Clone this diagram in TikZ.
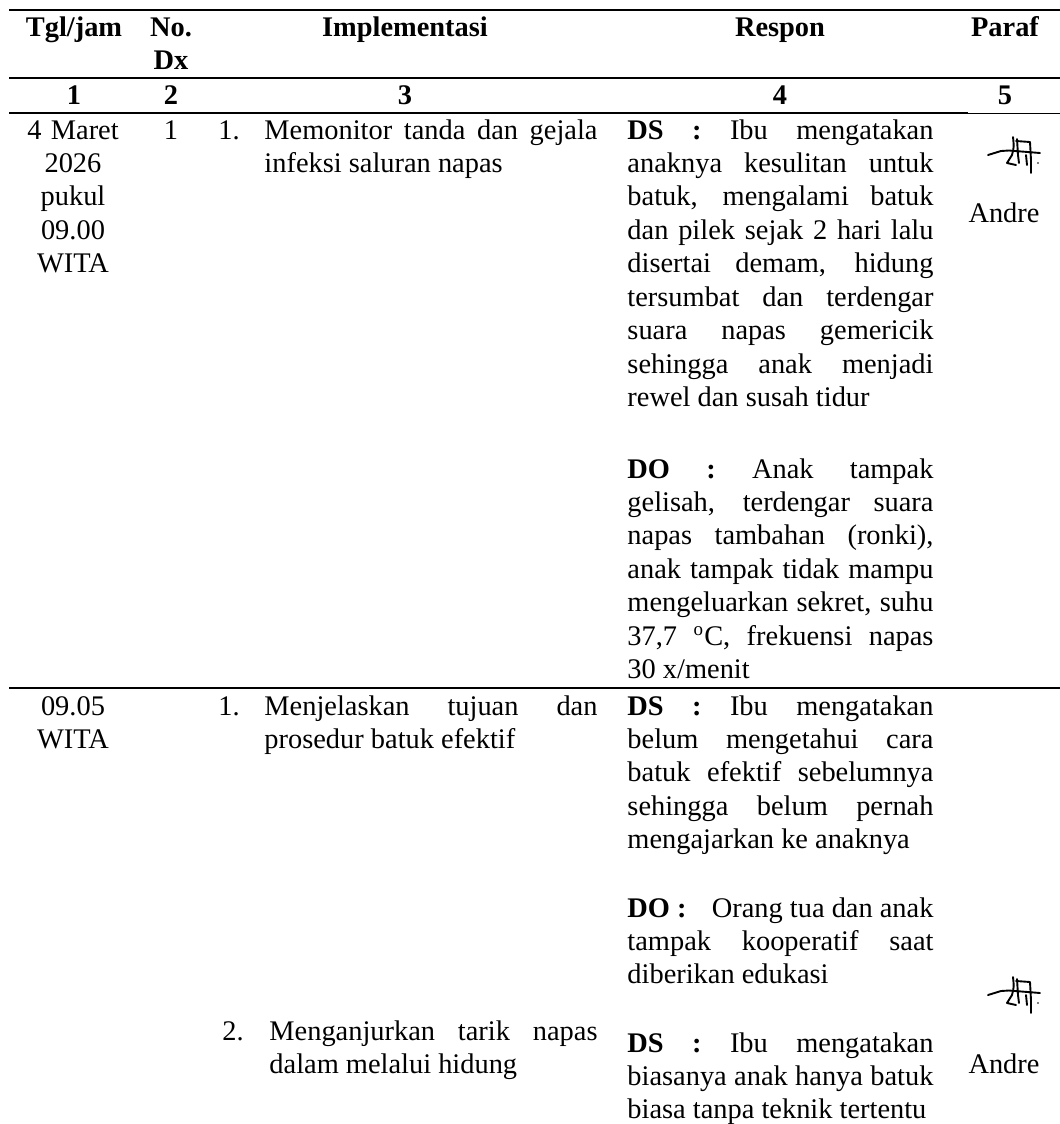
\documentclass[tikz,border=0pt]{standalone}
\usepackage{fontspec}
\setmainfont{Liberation Serif}
\tolerance=10000
\hbadness=10000
\hyphenpenalty=10000

\tikzset{
    paraf/.pic={
        \draw[line width=0.8pt,line cap=round,line join=round]
            (-25,0) -- (-12,-4) -- (-4,-4.5) -- (27,-2)
            (0,-18) .. controls (1,-8) .. (-1,0) -- (-6,8) -- (3,10)
            (4,-16) -- (5,0) -- (6,8)
            (3,-14) -- (17,-13) -- (18,5) -- (18,18)
            (13,0) -- (14,10);
        \fill (25,8) circle (0.9);
    }
}

\begin{document}
\fontsize{12}{14.15}\selectfont
\begin{tikzpicture}[x=0.4225pt,y=-0.4225pt]
        \useasboundingbox (0,0) rectangle (1060,1124);

        \begin{scope}[line width=0.63pt]
            \draw (9,10) -- (1060,10);
            \draw (9,78) -- (1060,78);
            \draw (9,113) -- (968,113);
            \draw[line width=0.42pt] (968,113) -- (1060,113);
            \draw (9,688) -- (1060,688);
        \end{scope}

        \begin{scope}[every node/.style={inner sep=0pt,anchor=base,font=\bfseries}]
            \node (tgl) at (74,36) {Tgl/jam};
            \node (nodx) at (171,36) [text width=28pt,align=center] {No.\\Dx};
            \node (impl) at (405,36) {Implementasi};
            \node (respon) at (780,36) {Respon};
            \node (paraf) at (1005,36) {Paraf};

            \node (k1) at (74,104) {1};
            \node (k2) at (171,104) {2};
            \node (k3) at (405,104) {3};
            \node (k4) at (780,104) {4};
            \node (k5) at (1005,104) {5};
        \end{scope}

        \begin{scope}[every node/.style={inner sep=0pt,anchor=base}]
            \node (tgl1) at (73,139) [text width=46.5pt,align=center] {4 Maret\\2026\\pukul\\09.00\\WITA};
            \node (dx1) at (171,139) {1};
            \node (no11) at (218,139) [anchor=base west] {1.};
            \node (imp11) at (264,139) [anchor=base west,text width=140.7pt,align=justify]
                {Memonitor tanda dan gejala\linebreak infeksi saluran napas};
            \node (ds1) at (627,139) [anchor=base west,text width=129.3pt,align=justify]
                {\textbf{DS :} Ibu mengatakan\linebreak anaknya kesulitan untuk\linebreak
                 batuk, mengalami batuk\linebreak dan pilek sejak 2 hari lalu\linebreak
                 disertai demam, hidung\linebreak tersumbat dan terdengar\linebreak
                 suara napas gemericik\linebreak sehingga anak menjadi\linebreak
                 rewel dan susah tidur};
            \node (do1) at (627,478) [anchor=base west,text width=129.3pt,align=justify]
                {\textbf{DO :} Anak tampak\linebreak gelisah, terdengar suara\linebreak
                 napas tambahan (ronki),\linebreak anak tampak tidak mampu\linebreak
                 mengeluarkan sekret, suhu\linebreak 37,7 \textsuperscript{o}C, frekuensi napas\linebreak
                 30 x/menit};
            \node (andre1) at (1004,222) {Andre};

            \node (tgl2) at (73,715) [text width=46.5pt,align=center] {09.05\\WITA};
            \node (no21) at (218,715) [anchor=base west] {1.};
            \node (imp21) at (264,715) [anchor=base west,text width=140.7pt,align=justify]
                {Menjelaskan tujuan dan\linebreak prosedur batuk efektif};
            \node (ds21) at (627,715) [anchor=base west,text width=129.3pt,align=justify]
                {\textbf{DS :} Ibu mengatakan\linebreak belum mengetahui cara\linebreak
                 batuk efektif sebelumnya\linebreak sehingga belum pernah\linebreak
                 mengajarkan ke anaknya};
            \node (do21) at (627,917) [anchor=base west,text width=129.3pt,align=justify]
                {\textbf{DO :}\hfill Orang tua dan anak\linebreak tampak kooperatif saat\linebreak
                 diberikan edukasi};
            \node (no22) at (222,1040) [anchor=base west] {2.};
            \node (imp22) at (269,1040) [anchor=base west,text width=138.6pt,align=justify]
                {Menganjurkan tarik napas\linebreak dalam melalui hidung};
            \node (ds22) at (627,1052) [anchor=base west,text width=129.3pt,align=justify]
                {\textbf{DS :} Ibu mengatakan\linebreak biasanya anak hanya batuk\linebreak
                 biasa tanpa teknik tertentu};
            \node (andre2) at (1004,1073) {Andre};
        \end{scope}

        \pic (ttd1) at (1013,155) {paraf};
        \pic (ttd2) at (1013,995) {paraf};

\end{tikzpicture}
\end{document}
